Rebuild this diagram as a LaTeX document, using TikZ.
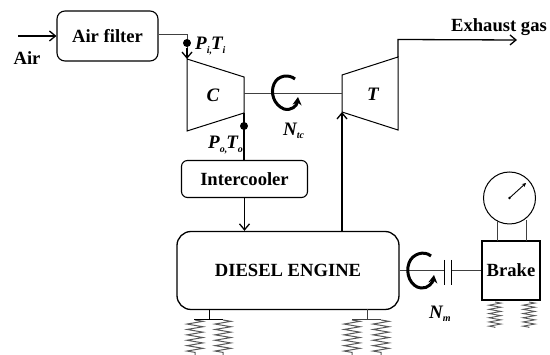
\documentclass[tikz,border=0pt]{standalone}
\usepackage{fontspec}
\setmainfont{Liberation Serif}
\usetikzlibrary{arrows.meta,decorations.pathmorphing}
\newcommand\lowsub[1]{\raisebox{-3.5pt}{\fontsize{10}{10}\selectfont #1}}
\tikzset{
  lbl/.style={inner sep=0pt,font=\bfseries\fontsize{18.6}{20}\selectfont},
  ital/.style={inner sep=0pt,font=\bfseries\itshape\fontsize{19}{20}\selectfont},
  box/.style={draw,line width=1.1pt,rounded corners=8pt,inner sep=0pt},
  flow/.style={line width=1.3pt,-{Straight Barb[length=6pt,width=10pt,line width=1.3pt]}},
  thin line/.style={line width=1pt,draw=black!75},
  dotn/.style={circle,fill=black,inner sep=0pt,minimum size=8pt},
  curl/.style={line width=3pt,-{Stealth[length=8pt,width=9pt]}},
  spring/.style={line width=1pt,draw=black!65,decorate,decoration={zigzag,segment length=5.4pt,amplitude=8pt}},
  small spring/.style={line width=.9pt,draw=black!65,decorate,decoration={zigzag,segment length=4.2pt,amplitude=6pt}}
}
\begin{document}
\begin{tikzpicture}[x=1pt,y=-1pt]
\useasboundingbox (0,0) rectangle (550,355);
\node[box,minimum width=101pt,minimum height=50pt] (filter) at (107.5,36) {};
\node[lbl] at (filter.center) {Air filter};
\coordinate (airin) at (18,36);
\draw[flow] (airin) -- (filter.west);
\node[lbl] (air) at (27,58) {Air};
% compressor
\coordinate (c1) at (187,59); \coordinate (c2) at (244,77);
\coordinate (c3) at (244,113); \coordinate (c4) at (187,131);
\draw[line width=1pt] (c1) -- (c2) -- (c3) -- (c4) -- cycle;
\node[ital] (clab) at (213,95) {C};
\coordinate (bend) at (187,35);
\draw[thin line] (filter.east |- bend) -- (bend) -- (c1);
\draw[flow] (187,48) -- (c1);
\node[dotn] (dot1) at (187,43) {};
\node[ital,anchor=west] (pi) at (195,46) {P\lowsub{i,}\kern-1pt T\lowsub{i}};
% intercooler
\node[box,rounded corners=6pt,minimum width=126pt,minimum height=37pt] (cool) at (244.5,179) {};
\node[lbl] at (cool.center) {Intercooler};
\draw[line width=1.3pt] (c3) -- (cool.north -| c3);
\node[dotn] (dot2) at (244,126) {};
\node[ital,anchor=west] (po) at (208,145) {P\lowsub{o,}\kern-1pt T\lowsub{o}};
% engine
\node[box,rounded corners=14pt,line width=1.3pt,minimum width=222pt,minimum height=78pt] (eng) at (288,270.5) {};
\node[lbl] at (eng.center) {DIESEL ENGINE};
\draw[flow] (cool.south) -- (eng.north -| cool.south);
% turbine
\coordinate (t1) at (342,75); \coordinate (t2) at (398,57);
\coordinate (t3) at (398,130); \coordinate (t4) at (342,112);
\draw[line width=1pt] (t1) -- (t2) -- (t3) -- (t4) -- cycle;
\node[ital] (tlab) at (373,94) {T};
\draw[flow] (eng.north -| t4) -- (t4);
\coordinate (shc) at (244,94); \coordinate (sht) at (342,94);
\draw[thin line] (shc) -- (sht);
\draw[curl] (295,79) .. controls (289,74) and (278,75) .. (274,84) .. controls (270,93) and (274,105) .. (284,109) .. controls (291,111) and (297,106) .. (298,97);
\node[ital,anchor=west] (ntc) at (283,131) {N\lowsub{tc}};
\coordinate (ex) at (517,40);
\draw[flow] (t2) -- (398,39.5) -- (ex);
\node[lbl] (exh) at (499,27) {Exhaust gas};
% brake
\node[draw,line width=1.1pt,minimum width=58pt,minimum height=59pt,inner sep=0pt] (brake) at (511,270.5) {};
\node[lbl] at (brake.center) {Brake};
\coordinate (cl1) at (445,271); \coordinate (cl2) at (451,271);
\draw[thin line] (eng.east |- cl1) -- (cl1);
\draw[thin line] (cl2) -- (brake.west |- cl2);
\draw[line width=1pt] (444.5,260) -- (444.5,285) (451.5,260) -- (451.5,285);
\draw[curl] (431,256) .. controls (424,250) and (412,254) .. (409,263) .. controls (405,274) and (411,287) .. (421,288) .. controls (428,289) and (433,282) .. (434,275);
\node[ital,anchor=west] (nm) at (429,314) {N\lowsub{m}};
% gauge
\node[draw,circle,line width=1pt,minimum size=52pt,inner sep=0pt] (gauge) at (509.5,198) {};
\draw[thin line] (497,221) -- (497,241) (526,220) -- (526,241);
\fill (gauge.center) circle (1.3pt);
\draw[line width=0.9pt,-{Stealth[length=4pt,width=4pt]}] (gauge.center) -- (526,183);
% springs
\foreach \x in {195,223,352,381} \draw[spring] (\x,320) -- (\x,355);
\foreach \x in {495,529} \draw[small spring] (\x,302) -- (\x,328);
\draw[line width=1pt] (209,309) -- (209,319) (194,319.5) -- (223,319.5);
\draw[thin line] (367,309) -- (367,319) (352,319.5) -- (381,319.5);
\end{tikzpicture}
\end{document}
